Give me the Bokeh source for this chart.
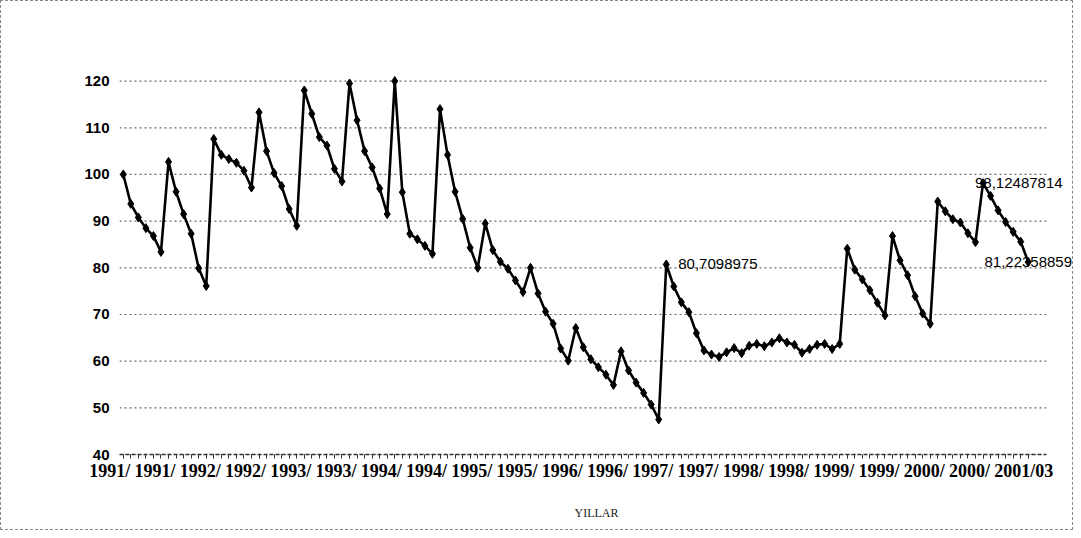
from bokeh.plotting import figure
from bokeh.models import FixedTicker, Label, ColumnDataSource
from bokeh.embed import file_html
from bokeh.resources import INLINE

# Monthly index values, 1991/01 ... 2001/01
v1991 = [100.0, 93.7, 90.8, 88.5, 86.8, 83.4, 102.7, 96.3, 91.5, 87.3, 79.9, 76.1]
v1992 = [107.6, 104.2, 103.3, 102.5, 100.8, 97.2, 113.3, 105.0, 100.3, 97.5, 92.6, 89.0]
v1993 = [118.0, 113.0, 108.0, 106.2, 101.2, 98.5, 119.5, 111.6, 105.0, 101.5, 97.0, 91.5]
v1994 = [120.0, 96.2, 87.3, 86.1, 84.7, 83.0, 114.0, 104.2, 96.3, 90.5, 84.3, 80.0]
v1995 = [89.5, 83.8, 81.3, 79.8, 77.3, 74.8, 80.0, 74.5, 70.6, 68.0, 62.7, 60.1]
v1996 = [67.1, 63.0, 60.4, 58.7, 57.1, 54.9, 62.1, 58.0, 55.4, 53.2, 50.7, 47.5]
v1997 = [80.7098975, 76.0, 72.6, 70.5, 66.0, 62.3, 61.4, 60.9, 61.9, 62.8, 61.7, 63.3]
v1998 = [63.7, 63.2, 64.0, 64.9, 64.0, 63.5, 61.8, 62.6, 63.5, 63.7, 62.6, 63.7]
v1999 = [84.1, 79.6, 77.5, 75.2, 72.5, 69.8, 86.8, 81.6, 78.4, 73.9, 70.2, 68.0]
v2000 = [94.2, 92.1, 90.4, 89.7, 87.4, 85.5, 98.12487814, 95.4, 92.3, 89.8, 87.7, 85.6]
v2001 = [81.22358859]

values = v1991 + v1992 + v1993 + v1994 + v1995 + v1996 + v1997 + v1998 + v1999 + v2000 + v2001
month_index = list(range(len(values)))

# visible x tick labels (one every 6 months)
tick_labels = ["1991/", "1991/", "1992/", "1992/", "1993/", "1993/", "1994/", "1994/",
               "1995/", "1995/", "1996/", "1996/", "1997/", "1997/", "1998/", "1998/",
               "1999/", "1999/", "2000/", "2000/", "2001/03"]
y_ticks = [40, 50, 60, 70, 80, 90, 100, 110, 120]
labelled_points = [72, 114, 120]

AXIS_START, AXIS_END = -0.5, 122.4

p = figure(width=1073, height=530, output_backend="svg", toolbar_location=None,
           x_range=(AXIS_START, 126.0), y_range=(40, 121.2),
           min_border_left=118, min_border_right=1, min_border_top=74, min_border_bottom=77)
p.styles = {"border": "1px dashed #888888"}
p.outline_line_color = None
p.background_fill_color = "white"
p.border_fill_color = "white"

# dotted horizontal gridlines, limited to the axis extent
p.segment(x0=[AXIS_START] * len(y_ticks), x1=[AXIS_END] * len(y_ticks), y0=y_ticks, y1=y_ticks,
          line_color="#666666", line_dash="2 3", line_width=1.2)

src = ColumnDataSource(dict(x=month_index, y=values))
p.line("x", "y", source=src, line_color="black", line_width=2.6)
p.scatter("x", "y", source=src, marker="diamond", size=9, fill_color="black", line_color="black")

major = [i * 6 for i in range(len(tick_labels))]
p.xaxis.ticker = FixedTicker(ticks=major, minor_ticks=month_index)
p.xaxis.bounds = (AXIS_START, AXIS_END)
overrides = {}
for t, lab in zip(major, tick_labels):
    # pad with figure spaces so every label has the width of "yyyy/mm" + 1 digit
    overrides[t] = lab + "\u2007" * (8 - len(lab))
p.xaxis.major_label_overrides = overrides
p.xaxis.major_label_text_font = "Liberation Serif"
p.xaxis.major_label_text_font_style = "bold"
p.xaxis.major_label_text_font_size = "18px"
p.xaxis.major_label_text_color = "black"
p.xaxis.major_label_standoff = 2
p.xaxis.axis_line_color = "#333333"
p.xaxis.axis_line_width = 1.5
p.xaxis.axis_line_dash = "4 2"
p.xaxis.major_tick_out = 4
p.xaxis.major_tick_in = 0
p.xaxis.minor_tick_out = 4
p.xaxis.minor_tick_in = 0
p.xaxis.major_tick_line_color = "#333333"
p.xaxis.minor_tick_line_color = "#333333"
p.xaxis.axis_label = "YILLAR"
p.xaxis.axis_label_text_font = "Liberation Serif"
p.xaxis.axis_label_text_font_style = "normal"
p.xaxis.axis_label_text_font_size = "12px"
p.xaxis.axis_label_text_color = "#222222"
p.xaxis.axis_label_standoff = 22

p.yaxis.ticker = FixedTicker(ticks=y_ticks)
p.yaxis.axis_line_color = None
p.yaxis.major_tick_line_color = None
p.yaxis.minor_tick_line_color = None
p.yaxis.major_label_text_font = "Liberation Sans"
p.yaxis.major_label_text_font_style = "bold"
p.yaxis.major_label_text_font_size = "15px"
p.yaxis.major_label_text_color = "black"
p.yaxis.major_label_standoff = 4

p.xgrid.grid_line_color = None
p.ygrid.grid_line_color = None

placement = {72: (12, "left"), 114: (-8, "left"), 120: (0, "center")}
for idx in labelled_points:
    dx, align = placement[idx]
    txt = ("%.8f" % values[idx]).rstrip("0").replace(".", ",")
    p.add_layout(Label(x=idx, y=values[idx], text=txt, x_offset=dx,
                       text_align=align, text_baseline="middle",
                       text_font="Liberation Sans", text_font_size="15px",
                       text_color="black"))

open("out.html", "w").write(file_html(p, INLINE))
